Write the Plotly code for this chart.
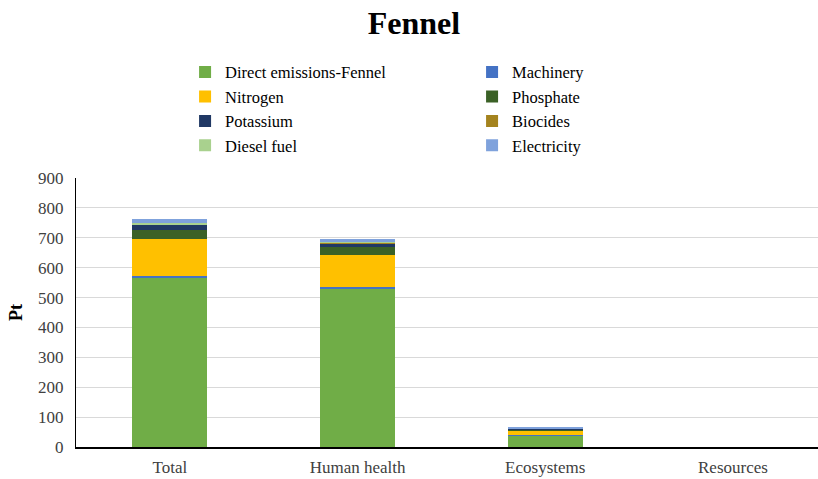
import plotly.graph_objects as go

categories = ["Total", "Human health", "Ecosystems", "Resources"]
series_names = ["Direct emissions-Fennel", "Machinery", "Nitrogen", "Phosphate",
                "Potassium", "Biocides", "Diesel fuel", "Electricity"]
direct_emissions = [565, 529, 40, 0]
machinery = [8, 7, 1, 0]
nitrogen = [124, 105, 15, 0]
phosphate = [30, 27, 4, 0]
potassium = [17, 13, 2, 0]
biocides = [2, 2, 0.5, 0]
diesel_fuel = [3, 2, 0.5, 0]
electricity = [13, 11, 3, 0]
series_values = [direct_emissions, machinery, nitrogen, phosphate,
                 potassium, biocides, diesel_fuel, electricity]
colors = ["#70AD47", "#4472C4", "#FFC000", "#3B6126",
          "#203864", "#A4831E", "#A9D18E", "#7FA2DC"]
y_ticks = [0, 100, 200, 300, 400, 500, 600, 700, 800, 900]

FONT = "Liberation Serif, Times New Roman, serif"

fig = go.Figure()
for name, vals, col in zip(series_names, series_values, colors):
    fig.add_trace(go.Bar(x=categories, y=vals, name=name, marker_color=col,
                         marker_line_width=0, width=0.4))

fig.update_layout(
    barmode="stack",
    width=818, height=479,
    margin=dict(l=76, r=0, t=178, b=32, autoexpand=False),
    paper_bgcolor="white", plot_bgcolor="white",
    font=dict(family=FONT, size=17, color="#404040"),
    title=dict(text="<b>Fennel</b>", x=0.506, xanchor="center", y=0.952, yanchor="middle",
               font=dict(family=FONT, size=32, color="black")),
    legend=dict(orientation="h", x=0.147, xanchor="left", y=1.458, yanchor="top",
                entrywidth=242, entrywidthmode="pixels", traceorder="normal",
                bgcolor="rgba(0,0,0,0)",
                font=dict(family=FONT, size=16.5, color="black"),
                itemwidth=30, tracegroupgap=0),
)
fig.update_xaxes(range=[-0.5, 3.453], showline=True, linecolor="black", linewidth=2,
                 ticks="", showgrid=False, automargin=False, ticklabelstandoff=4,
                 tickfont=dict(family=FONT, size=17, color="#404040"))
fig.update_yaxes(range=[0, 900], tickvals=y_ticks, showgrid=True, gridcolor="#D9D9D9",
                 gridwidth=1, showline=True, linecolor="black", linewidth=1,
                 ticks="", zeroline=False, automargin=False, ticklabelstandoff=8,
                 tickfont=dict(family=FONT, size=17, color="#404040"),
                 title=dict(text="<b>Pt</b>", standoff=10,
                            font=dict(family=FONT, size=18, color="black")))

fig.write_html("out.html", config={"displayModeBar": False},
               post_script="document.body.style.margin='0';")
